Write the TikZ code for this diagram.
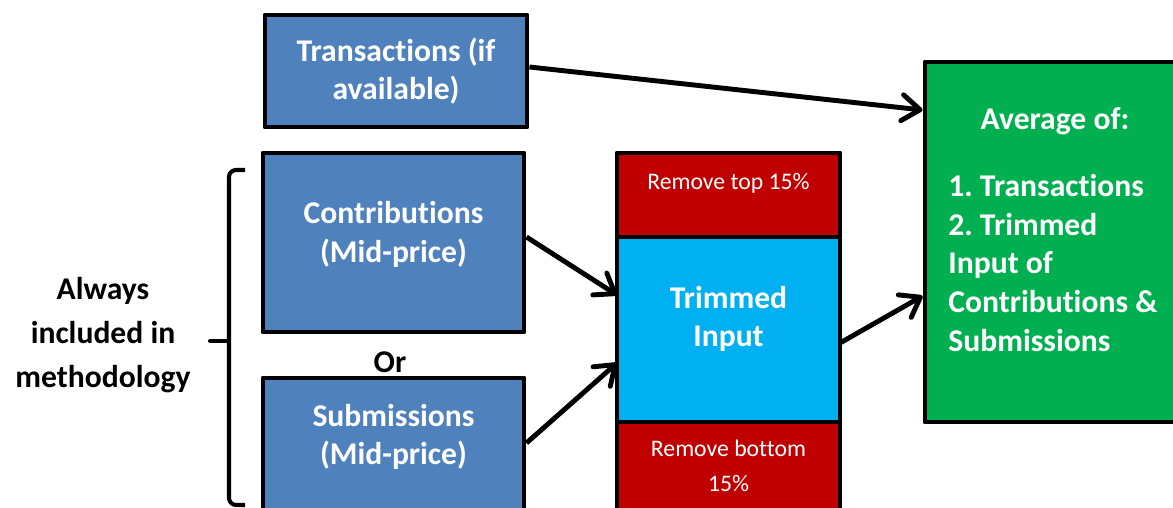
\documentclass[tikz,border=0pt]{standalone}
\usepackage{fontspec}
\setmainfont{Carlito}[Ligatures=NoCommon]
\usetikzlibrary{arrows.meta,positioning}
\definecolor{boxblue}{RGB}{79,129,189}
\definecolor{cutred}{RGB}{192,0,0}
\definecolor{trimblue}{RGB}{0,176,240}
\definecolor{avggreen}{RGB}{0,176,80}
\frenchspacing

\begin{document}
\begin{tikzpicture}[
    srcbox/.style={draw, line width=2.8pt, line join=round, fill=boxblue, text=white,
      align=center, font=\fontsize{18}{22}\selectfont\bfseries, minimum width=5.22cm},
    cutbox/.style={draw, line width=2.8pt, line join=round, fill=cutred, text=white,
      align=center, font=\fontsize{13.5}{20}\selectfont, minimum width=4.46cm, outer sep=0pt},
    flow/.style={line width=2.8pt, -{Straight Barb[length=3.6mm,width=5.2mm,round]}}]
  \clip (0,0) rectangle (23.46,-10.16);
  \node[srcbox, minimum width=5.24cm, minimum height=2.24cm] (trans) at (7.92,-1.42)
       {Transactions (if\\available)};
  \node[srcbox, minimum height=3.58cm] (contrib) at (7.87,-4.85) {Contributions\\(Mid-price)\\[-10pt]};
  \node[srcbox, minimum height=2.68cm] (subm) at (7.87,-8.9) {Submissions\\(Mid-price)\\[-10pt]};
  \node[font=\fontsize{18}{22}\selectfont\bfseries] (or) at (7.8,-7.24) {Or};
  \node[draw, line width=2.8pt, line join=round, fill=trimblue, text=white, align=center,
        font=\fontsize{18}{22}\selectfont\bfseries, minimum width=4.46cm, minimum height=3.7cm,
        outer sep=0pt] (trim) at (14.57,-6.59) {Trimmed\\Input\\[-7pt]};
  \node[cutbox, minimum height=1.68cm, above=0pt of trim] (cuttop) {Remove top 15\%\\[-5pt]};
  \node[cutbox, minimum height=1.76cm, below=0pt of trim] (cutbot) {Remove bottom\\15\%};
  \node[draw, line width=2.8pt, line join=round, fill=avggreen, minimum width=5.3cm,
        minimum height=7.2cm] (avg) at (21.15,-4.84) {};
  \node[text=white, font=\fontsize{18}{22}\selectfont\bfseries] (avgtitle) at (21.1,-2.42) {Average of:};
  \node[text=white, font=\fontsize{18}{22}\selectfont\bfseries, align=left, anchor=west,
        inner sep=0pt] (avglist) at (18.96,-5.26)
       {1. Transactions\\2. Trimmed\\Input of\\Contributions \&\\Submissions};
  \node[font=\fontsize{18}{25}\selectfont\bfseries, align=center] (always) at (2.06,-6.7)
       {Always\\included in\\methodology};
  \coordinate (bractop) at (4.9,-3.4);
  \coordinate (bracbot) at (4.9,-10.1);
  \coordinate (bractip) at (4.2,-6.82);
  \draw[line width=2.3pt, rounded corners=4pt] (bractop) -- (4.58,-3.4) -- (4.58,-10.1) -- (bracbot);
  \draw[line width=2.3pt, line cap=round] (4.58,-6.82) -- (bractip);
  \draw[flow] ([yshift=0.08cm]trans.east) -- ([yshift=2.64cm]avg.west);
  \draw[flow] ([yshift=0.11cm]contrib.east) -- ([yshift=0.69cm]trim.west);
  \draw[flow] ([yshift=0.04cm]subm.east) -- ([yshift=-0.67cm]trim.west);
  \draw[flow] ([yshift=-0.27cm]trim.east) -- ([yshift=-1.08cm]avg.west);
\end{tikzpicture}
\end{document}
